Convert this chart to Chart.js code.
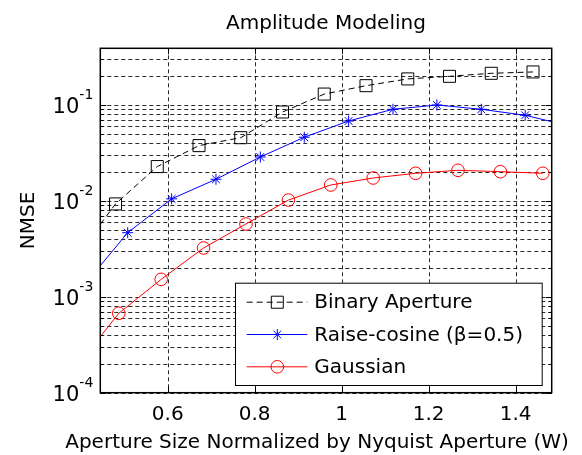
<!DOCTYPE html>
<html><head><meta charset="utf-8">
<script src="https://cdn.jsdelivr.net/npm/chart.js@4.4.1/dist/chart.umd.min.js"></script>
<style>html,body{margin:0;padding:0;background:#fff;}#wrap{width:582px;height:455px;position:relative;}</style>
</head><body><div id="wrap"><canvas id="c" width="582" height="455"></canvas></div>
<script>
const FONT = 'DejaVu Sans';
const chartTitle = 'Amplitude Modeling';
const xAxisTitle = 'Aperture Size Normalized by Nyquist Aperture (W)';
const yAxisTitle = 'NMSE';

const xTickValues = [0.6, 0.8, 1.0, 1.2, 1.4];
const xTickLabels = ['0.6', '0.8', '1', '1.2', '1.4'];
const yMajorValues = [1e-4, 1e-3, 1e-2, 1e-1];
const yMajorBase = '10';
const yMajorExponents = ['-4', '-3', '-2', '-1'];
const yMinorMultipliers = [2, 3, 4, 5, 6, 7, 8, 9];

const seriesNames = ['Binary Aperture', 'Raise-cosine (\u03B2=0.5)', 'Gaussian'];

// Binary aperture (markers) and where its curve enters the axes
const binaryX = [0.480, 0.576, 0.672, 0.768, 0.864, 0.960, 1.056, 1.152, 1.248, 1.344, 1.440];
const binaryY = [0.0093, 0.0228, 0.0377, 0.0456, 0.0845, 0.130, 0.159, 0.187, 0.199, 0.214, 0.221];
const binaryLineStart = [0.445, 0.0057];

// Raised cosine
const raisedX = [0.508, 0.609, 0.711, 0.813, 0.914, 1.016, 1.118, 1.219, 1.321, 1.422];
const raisedY = [0.00466, 0.0105, 0.0168, 0.0287, 0.0461, 0.0681, 0.0902, 0.100, 0.0902, 0.0781];
const raisedLineStart = [0.445, 0.00211];
const raisedLineEnd = [1.483, 0.0670];

// Gaussian
const gaussX = [0.4875, 0.585, 0.6825, 0.780, 0.8775, 0.975, 1.0725, 1.170, 1.2675, 1.365, 1.4625];
const gaussY = [0.000673, 0.00152, 0.00323, 0.00574, 0.0102, 0.01465, 0.01733, 0.0194, 0.02085, 0.02016, 0.0194];
const gaussLineStart = [0.445, 0.000384];

function buildSeries(xs, ys, start, end) {
  const pts = xs.map((x, i) => ({x: x, y: ys[i]}));
  if (start) pts.unshift({x: start[0], y: start[1], edge: true});
  if (end) pts.push({x: end[0], y: end[1], edge: true});
  return pts;
}

const markerStyles = [
  {style: 'rect', radius: 8.5, color: '#000000', dash: [6, 4]},
  {style: 'star', radius: 5.5, color: '#0000ff', dash: []},
  {style: 'circle', radius: 6.3, color: '#ff0000', dash: []}
];

function makeDataset(i, data) {
  const m = markerStyles[i];
  return {
    label: seriesNames[i],
    data: data,
    borderColor: m.color,
    borderWidth: 1,
    borderDash: m.dash,
    tension: 0,
    fill: false,
    pointStyle: m.style,
    pointRadius: c => (c.raw && c.raw.edge) ? 0 : m.radius,
    pointHoverRadius: c => (c.raw && c.raw.edge) ? 0 : m.radius,
    pointBorderColor: m.color,
    pointBackgroundColor: 'rgba(0,0,0,0)',
    pointBorderWidth: 1
  };
}

const bgPlugin = {
  id: 'bg',
  beforeDraw(chart) {
    const ctx = chart.ctx;
    ctx.save();
    ctx.fillStyle = '#ffffff';
    ctx.fillRect(0, 0, chart.width, chart.height);
    ctx.restore();
  }
};

function allYGridValues(scale) {
  const vals = [];
  yMajorValues.forEach(v => {
    vals.push({v: v, major: true});
    yMinorMultipliers.forEach(m => vals.push({v: v * m, major: false}));
  });
  return vals.filter(o => o.v >= scale.min * 0.999 && o.v <= scale.max * 1.001);
}

const gridPlugin = {
  id: 'matlabGrid',
  beforeDatasetsDraw(chart) {
    const ctx = chart.ctx, a = chart.chartArea;
    const xs = chart.scales.x, ys = chart.scales.y;
    ctx.save();
    ctx.strokeStyle = 'rgba(20,20,20,0.9)';
    ctx.lineWidth = 1;
    ctx.setLineDash([4, 3]);
    xTickValues.forEach(v => {
      const px = Math.round(xs.getPixelForValue(v)) + 0.5;
      ctx.beginPath(); ctx.moveTo(px, a.top); ctx.lineTo(px, a.bottom); ctx.stroke();
    });
    allYGridValues(ys).forEach(o => {
      const py = Math.round(ys.getPixelForValue(o.v)) + 0.5;
      ctx.beginPath(); ctx.moveTo(a.left, py); ctx.lineTo(a.right, py); ctx.stroke();
    });
    ctx.restore();
  },
  afterDatasetsDraw(chart) {
    const ctx = chart.ctx, a = chart.chartArea;
    const xs = chart.scales.x, ys = chart.scales.y;
    ctx.save();
    ctx.strokeStyle = '#000';
    ctx.lineWidth = 1;
    ctx.setLineDash([]);
    xTickValues.forEach(v => {
      const px = Math.round(xs.getPixelForValue(v)) + 0.5;
      ctx.beginPath();
      ctx.moveTo(px, a.bottom); ctx.lineTo(px, a.bottom - 6);
      ctx.moveTo(px, a.top); ctx.lineTo(px, a.top + 6);
      ctx.stroke();
    });
    allYGridValues(ys).forEach(o => {
      const py = Math.round(ys.getPixelForValue(o.v)) + 0.5;
      const len = o.major ? 6 : 3;
      ctx.beginPath();
      ctx.moveTo(a.left, py); ctx.lineTo(a.left + len, py);
      ctx.moveTo(a.right, py); ctx.lineTo(a.right - len, py);
      ctx.stroke();
    });
    ctx.lineWidth = 1.5;
    ctx.strokeRect(a.left, a.top, a.right - a.left, a.bottom - a.top);
    ctx.restore();
  }
};

const textPlugin = {
  id: 'matlabText',
  afterDraw(chart) {
    const ctx = chart.ctx, a = chart.chartArea;
    const ys = chart.scales.y;
    ctx.save();
    ctx.fillStyle = '#000';
    // title
    ctx.font = '20px "' + FONT + '"';
    ctx.textAlign = 'center';
    ctx.textBaseline = 'alphabetic';
    ctx.fillText(chartTitle, (a.left + a.right) / 2, 28.5);
    // x axis title (not squeezed to the plot width)
    ctx.fillText(xAxisTitle, 317, 447.5);
    // y tick labels 10^n
    const rightEdge = a.left - 7;
    yMajorValues.forEach((v, i) => {
      const py = ys.getPixelForValue(v);
      ctx.font = '14px "' + FONT + '"';
      ctx.textAlign = 'right';
      const ew = ctx.measureText(yMajorExponents[i]).width;
      ctx.fillText(yMajorExponents[i], rightEdge, py - 6);
      ctx.font = '21px "' + FONT + '"';
      ctx.fillText(yMajorBase, rightEdge - ew, py + 8);
    });
    ctx.restore();
  }
};

const legendPlugin = {
  id: 'matlabLegend',
  afterDraw(chart) {
    const ctx = chart.ctx;
    const box = {x: 235, y: 282.7, w: 306.7, h: 102.3};
    const rows = [302.2, 334.5, 366.8];
    ctx.save();
    ctx.fillStyle = '#fff';
    ctx.fillRect(box.x, box.y, box.w, box.h);
    ctx.strokeStyle = '#000';
    ctx.lineWidth = 1;
    ctx.setLineDash([]);
    ctx.strokeRect(box.x + 0.5, box.y + 0.5, box.w, box.h);
    markerStyles.forEach((m, i) => {
      const y = rows[i];
      ctx.save();
      ctx.strokeStyle = m.color;
      ctx.lineWidth = 1;
      ctx.setLineDash(m.dash);
      ctx.beginPath(); ctx.moveTo(246.7, y); ctx.lineTo(307.3, y); ctx.stroke();
      ctx.setLineDash([]);
      ctx.fillStyle = 'rgba(0,0,0,0)';
      Chart.helpers.drawPoint(ctx, {pointStyle: m.style, radius: m.radius, rotation: 0, borderWidth: 1}, 277.3, y);
      ctx.restore();
      ctx.fillStyle = '#000';
      ctx.font = '20px "' + FONT + '"';
      ctx.textAlign = 'left';
      ctx.textBaseline = 'middle';
      ctx.fillText(seriesNames[i], 314.3, y + 1);
    });
    ctx.restore();
  }
};

const tickFont = {family: FONT, size: 20};

new Chart(document.getElementById('c'), {
  type: 'line',
  data: {
    datasets: [
      makeDataset(0, buildSeries(binaryX, binaryY, binaryLineStart, null)),
      makeDataset(1, buildSeries(raisedX, raisedY, raisedLineStart, raisedLineEnd)),
      makeDataset(2, buildSeries(gaussX, gaussY, gaussLineStart, null))
    ]
  },
  options: {
    responsive: false,
    animation: false,
    events: [],
    layout: {padding: {left: 0, right: 30.3, top: 48.3, bottom: 0}},
    plugins: {legend: {display: false}, title: {display: false}, tooltip: {enabled: false}},
    scales: {
      x: {
        type: 'linear', min: 0.445, max: 1.483,
        afterBuildTicks: s => { s.ticks = xTickValues.map(v => ({value: v})); },
        ticks: {callback: (v, i) => xTickLabels[i], font: tickFont, color: '#000', padding: 10, maxRotation: 0, autoSkip: false},
        grid: {display: false, drawTicks: false},
        border: {display: false},
        title: {display: false, text: xAxisTitle},
        afterFit: s => { s.height = 62.3; }
      },
      y: {
        type: 'logarithmic', min: 1e-4, max: 0.39,
        afterBuildTicks: s => { s.ticks = yMajorValues.map(v => ({value: v})); },
        ticks: {display: false},
        grid: {display: false, drawTicks: false},
        border: {display: false},
        title: {display: true, text: yAxisTitle, font: tickFont, color: '#000', padding: {top: 17, bottom: 0}},
        afterFit: s => { s.width = 100.3; }
      }
    }
  },
  plugins: [bgPlugin, gridPlugin, textPlugin, legendPlugin]
});
</script></body></html>
